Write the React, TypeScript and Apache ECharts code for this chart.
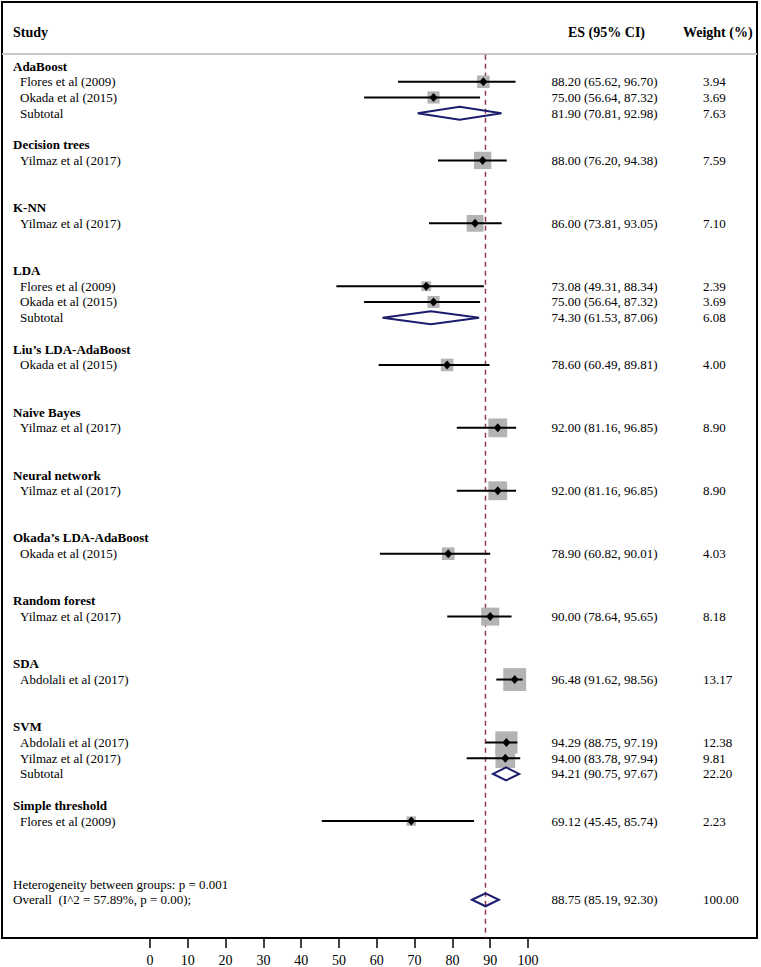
import React, { useEffect, useRef } from "react";
import * as echarts from "echarts";

// ---------- data ----------
const groupNames = [
  "AdaBoost",
  "Decision trees",
  "K-NN",
  "LDA",
  "Liu\u2019s LDA-AdaBoost",
  "Naive Bayes",
  "Neural network",
  "Okada\u2019s LDA-AdaBoost",
  "Random forest",
  "SDA",
  "SVM",
  "Simple threshold",
];
const groupRows = [0, 5, 9, 13, 18, 22, 26, 30, 34, 38, 42, 47];

const studyNames = [
  "Flores et al (2009)",
  "Okada et al (2015)",
  "Yilmaz et al (2017)",
  "Yilmaz et al (2017)",
  "Flores et al (2009)",
  "Okada et al (2015)",
  "Okada et al (2015)",
  "Yilmaz et al (2017)",
  "Yilmaz et al (2017)",
  "Okada et al (2015)",
  "Yilmaz et al (2017)",
  "Abdolali et al (2017)",
  "Abdolali et al (2017)",
  "Yilmaz et al (2017)",
  "Flores et al (2009)",
];
const studyRows = [1, 2, 6, 10, 14, 15, 19, 23, 27, 31, 35, 39, 43, 44, 48];
const studyES = [88.2, 75.0, 88.0, 86.0, 73.08, 75.0, 78.6, 92.0, 92.0, 78.9, 90.0, 96.48, 94.29, 94.0, 69.12];
const studyLo = [65.62, 56.64, 76.2, 73.81, 49.31, 56.64, 60.49, 81.16, 81.16, 60.82, 78.64, 91.62, 88.75, 83.78, 45.45];
const studyHi = [96.7, 87.32, 94.38, 93.05, 88.34, 87.32, 89.81, 96.85, 96.85, 90.01, 95.65, 98.56, 97.19, 97.94, 85.74];
const studyWeight = [3.94, 3.69, 7.59, 7.1, 2.39, 3.69, 4.0, 8.9, 8.9, 4.03, 8.18, 13.17, 12.38, 9.81, 2.23];

const pooledLabels = ["Subtotal", "Subtotal", "Subtotal", "Overall  (I^2 = 57.89%, p = 0.00);"];
const pooledRows = [3, 16, 45, 53];
const pooledES = [81.9, 74.3, 94.21, 88.75];
const pooledLo = [70.81, 61.53, 90.75, 85.19];
const pooledHi = [92.98, 87.06, 97.67, 92.3];
const pooledWeight = [7.63, 6.08, 22.2, 100.0];
const pooledIndent = [true, true, true, false];

const heterogeneityText = "Heterogeneity between groups: p = 0.001";
const heterogeneityRow = 52;

const headerLabels = ["Study", "ES (95% CI)", "Weight (%)"];
const axisTicks = [0, 10, 20, 30, 40, 50, 60, 70, 80, 90, 100];
const overallES = 88.75;

// ---------- layout helpers ----------
const X0 = 150; // pixel of value 0
const PXU = 3.78; // pixels per unit
const xv = (px: number) => (px - X0) / PXU;
const FRAME_L = 2;
const FRAME_R = 757;
const FRAME_T = 2;
const FRAME_B = 938;
const Y_MIN = -4.07;
const Y_MAX = 55.43;
const HEADER_ROW = -2.1;
const SQ_K = 6.3;
const FONT = "'Liberation Serif', 'Times New Roman', serif";
const FS = 13;
const FS_HEAD = 14;
const NAVY = "#1c1c6e";

type TextItem = { x: number; row: number; text: string; bold: boolean; size: number };

function buildTextItems(): TextItem[] {
  const items: TextItem[] = [];
  const fmt = (e: number, l: number, h: number) =>
    `${e.toFixed(2)} (${l.toFixed(2)}, ${h.toFixed(2)})`;
  items.push({ x: xv(13), row: HEADER_ROW, text: headerLabels[0], bold: true, size: FS_HEAD });
  items.push({ x: xv(568), row: HEADER_ROW, text: headerLabels[1], bold: true, size: FS_HEAD });
  items.push({ x: xv(683), row: HEADER_ROW, text: headerLabels[2], bold: true, size: FS_HEAD });
  groupNames.forEach((g, i) => items.push({ x: xv(13), row: groupRows[i], text: g, bold: true, size: FS }));
  studyNames.forEach((s, i) => {
    items.push({ x: xv(20), row: studyRows[i], text: s, bold: false, size: FS });
    items.push({ x: xv(551.5), row: studyRows[i], text: fmt(studyES[i], studyLo[i], studyHi[i]), bold: false, size: FS });
    items.push({ x: xv(703), row: studyRows[i], text: studyWeight[i].toFixed(2), bold: false, size: FS });
  });
  pooledLabels.forEach((s, i) => {
    items.push({ x: xv(pooledIndent[i] ? 20 : 13), row: pooledRows[i], text: s, bold: false, size: FS });
    items.push({ x: xv(551.5), row: pooledRows[i], text: fmt(pooledES[i], pooledLo[i], pooledHi[i]), bold: false, size: FS });
    items.push({ x: xv(703), row: pooledRows[i], text: pooledWeight[i].toFixed(2), bold: false, size: FS });
  });
  items.push({ x: xv(13), row: heterogeneityRow, text: heterogeneityText, bold: false, size: FS });
  return items;
}

export default function App() {
  const ref = useRef<HTMLDivElement>(null);

  useEffect(() => {
    if (!ref.current) return;
    const chart = echarts.init(ref.current, null, { renderer: "svg" });
    const textItems = buildTextItems();

    const option: any = {
      animation: false,
      backgroundColor: "#ffffff",
      grid: {
        left: FRAME_L,
        right: 761 - FRAME_R,
        top: FRAME_T,
        height: FRAME_B - FRAME_T,
        containLabel: false,
      },
      xAxis: {
        type: "value",
        position: "bottom",
        min: xv(FRAME_L),
        max: xv(FRAME_R),
        splitLine: { show: false },
        axisLine: { show: true, onZero: false, lineStyle: { color: "#000", width: 2 } },
        axisTick: {
          show: true,
          customValues: axisTicks,
          length: 10,
          lineStyle: { color: "#000", width: 1.5 },
        },
        axisLabel: {
          show: true,
          customValues: axisTicks,
          color: "#000",
          fontFamily: FONT,
          fontSize: 14,
          margin: 15,
        },
      },
      yAxis: {
        type: "value",
        inverse: true,
        min: Y_MIN,
        max: Y_MAX,
        show: false,
      },
      graphic: [
        {
          type: "rect",
          shape: { x: FRAME_L, y: FRAME_T, width: FRAME_R - FRAME_L, height: FRAME_B - FRAME_T },
          style: { fill: "none", stroke: "#000", lineWidth: 2 },
          silent: true,
          z: 0,
        },
        {
          type: "line",
          shape: { x1: FRAME_L, y1: 54, x2: FRAME_R, y2: 54 },
          style: { stroke: "#c8c8c8", lineWidth: 2 },
          silent: true,
        },
      ],
      series: [
        {
          type: "line",
          name: "overall",
          data: [
            [overallES, -0.72],
            [overallES, Y_MAX],
          ],
          symbol: "none",
          lineStyle: { color: "#8e3a48", width: 1.5, type: [5, 4] },
          z: 1,
          silent: true,
        },
        {
          type: "custom",
          name: "studies",
          data: studyES.map((v, i) => [v, studyRows[i]]),
          z: 3,
          silent: true,
          renderItem: (params: any, api: any) => {
            const i = params.dataIndex;
            const r = studyRows[i];
            const c = api.coord([studyES[i], r]);
            const l = api.coord([studyLo[i], r]);
            const h = api.coord([studyHi[i], r]);
            const s = SQ_K * Math.sqrt(studyWeight[i]);
            return {
              type: "group",
              children: [
                {
                  type: "rect",
                  shape: { x: c[0] - s / 2, y: c[1] - s / 2, width: s, height: s },
                  style: { fill: "#b3b3b3" },
                },
                {
                  type: "line",
                  shape: { x1: l[0], y1: l[1], x2: h[0], y2: h[1] },
                  style: { stroke: "#000", lineWidth: 2 },
                },
                {
                  type: "polygon",
                  shape: {
                    points: [
                      [c[0] - 4, c[1]],
                      [c[0], c[1] - 4.5],
                      [c[0] + 4, c[1]],
                      [c[0], c[1] + 4.5],
                    ],
                  },
                  style: { fill: "#000" },
                },
              ],
            };
          },
        },
        {
          type: "custom",
          name: "pooled",
          data: pooledES.map((v, i) => [v, pooledRows[i]]),
          z: 3,
          silent: true,
          renderItem: (params: any, api: any) => {
            const i = params.dataIndex;
            const r = pooledRows[i];
            const c = api.coord([pooledES[i], r]);
            const l = api.coord([pooledLo[i], r]);
            const h = api.coord([pooledHi[i], r]);
            const hh = 6.5;
            return {
              type: "polygon",
              shape: {
                points: [
                  [l[0], c[1]],
                  [c[0], c[1] - hh],
                  [h[0], c[1]],
                  [c[0], c[1] + hh],
                ],
              },
              style: { fill: "none", stroke: NAVY, lineWidth: 2 },
            };
          },
        },
        {
          type: "custom",
          name: "texts",
          data: textItems.map((t) => [t.x, t.row]),
          z: 4,
          silent: true,
          clip: false,
          renderItem: (params: any, api: any) => {
            const t = textItems[params.dataIndex];
            const p = api.coord([t.x, t.row]);
            return {
              type: "text",
              x: p[0],
              y: p[1],
              style: {
                text: t.text,
                fill: "#000",
                fontFamily: FONT,
                fontSize: t.size,
                fontWeight: t.bold ? "bold" : "normal",
                align: "left",
                verticalAlign: "middle",
              },
            };
          },
        },
      ],
    };

    chart.setOption(option);
    return () => chart.dispose();
  }, []);

  return (
    <div
      ref={ref}
      style={{ position: "absolute", left: 0, top: 0, width: 761, height: 967, background: "#fff" }}
    />
  );
}
